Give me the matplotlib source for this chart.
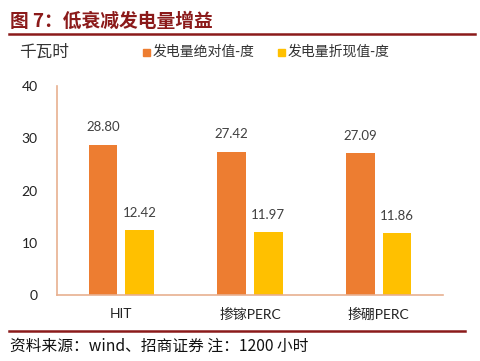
import numpy as np
import matplotlib
matplotlib.use("Agg")
import matplotlib.pyplot as plt
from matplotlib.lines import Line2D

plt.rcParams['font.family'] = ['Lato', 'Noto Sans CJK SC', 'DejaVu Sans']

categories = ['HIT', '掺镓PERC', '掺硼PERC']
absolute = [28.80, 27.42, 27.09]
discounted = [12.42, 11.97, 11.86]
series_names = ['发电量绝对值-度', '发电量折现值-度']
yticks = [0, 10, 20, 30, 40]

orange = '#ED7D31'
yellow = '#FFC000'
darkred = '#8B1A1A'
cjk = ['Noto Sans CJK SC', 'DejaVu Sans']

fig = plt.figure(figsize=(4.81, 3.61), dpi=100)
ax = fig.add_axes([57 / 481, 66 / 361, 386 / 481, 209 / 361])

x = np.arange(len(categories))
w = 0.222
off = 0.142
b1 = ax.bar(x - off, absolute, w, color=orange)
b2 = ax.bar(x + off, discounted, w, color=yellow)

for bars, vals in [(b1, absolute), (b2, discounted)]:
    for r, v in zip(bars, vals):
        ax.text(r.get_x() + r.get_width() / 2, v + 2.2, f'{v:.2f}',
                ha='center', va='bottom', fontsize=9.5, color='#404040')

ax.set_xlim(-0.5, 2.5)
ax.set_ylim(0, 40)
ax.set_yticks(yticks)
ax.set_xticks(x)
ax.set_xticklabels(categories, fontsize=9.5, color='#222222')
ax.tick_params(axis='both', length=0, labelsize=10, colors='#222222')
ax.tick_params(axis='x', pad=9)
ax.tick_params(axis='y', pad=14)
for s in ['top', 'right']:
    ax.spines[s].set_visible(False)
for s in ['left', 'bottom']:
    ax.spines[s].set_color('#E8B090')
    ax.spines[s].set_linewidth(1.2)

# title and rules
fig.text(10 / 481, 1 - 21 / 361, '图 7：低衰减发电量增益', fontsize=13.5, fontweight='bold',
         color=darkred, va='center', ha='left', family=cjk)
fig.add_artist(Line2D([9 / 481, 475 / 481], [1 - 33.5 / 361] * 2, color=darkred, lw=1.8))
fig.add_artist(Line2D([9 / 481, 465 / 481], [1 - 331 / 361] * 2, color=darkred, lw=1.8))
fig.text(10 / 481, 1 - 346 / 361, '资料来源：wind、招商证券 注：1200 小时', fontsize=11.3,
         color='#111111', va='center', ha='left', family=cjk)

# unit and legend
fig.text(19 / 481, 1 - 52 / 361, '千瓦时', fontsize=12, color='#333333', va='center', ha='left',
         family=cjk)
for xs, col, name in [(143, orange, series_names[0]), (278, yellow, series_names[1])]:
    fig.patches.append(plt.Rectangle((xs / 481, 1 - 55.5 / 361), 6.5 / 481, 6.5 / 361,
                                     transform=fig.transFigure, color=col))
    fig.text((xs + 10) / 481, 1 - 52 / 361, name, fontsize=10, color='#333333', va='center',
             ha='left', family=cjk)

fig.savefig('out.png', dpi=100)
